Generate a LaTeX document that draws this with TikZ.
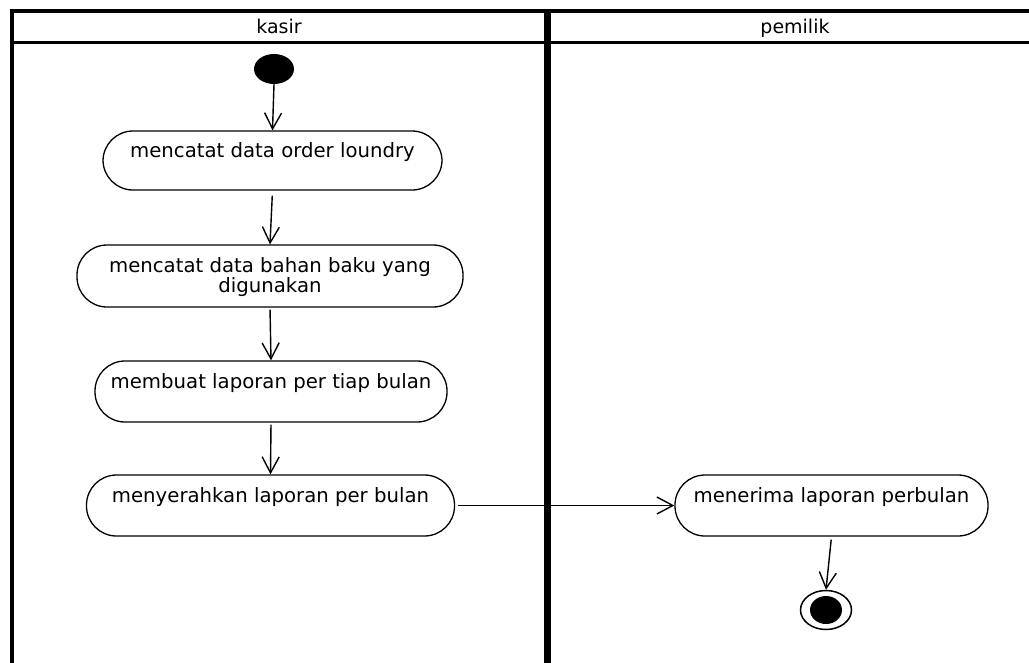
\documentclass[tikz,border=0pt]{standalone}
\usepackage{fontspec}
\setmainfont{DejaVu Sans}
\usetikzlibrary{arrows.meta,shapes.geometric}
\tikzset{
  act/.style={draw=black, line width=1.3pt, rectangle, rounded corners=30pt,
    inner sep=0pt, align=center, font=\fontsize{19.7pt}{19.5pt}\selectfont,
    text height=14pt, text depth=20pt},
  act2/.style={act, text height=34pt, text depth=2pt},
  startnode/.style={draw=none, fill=black, ellipse, minimum width=40pt, minimum height=30pt, inner sep=0pt},
  endouter/.style={draw=black, line width=1.5pt, ellipse, minimum width=51pt, minimum height=39pt, inner sep=0pt},
  endinner/.style={fill=black, ellipse, minimum width=32pt, minimum height=28pt, inner sep=0pt},
  flow/.style={draw=black, line width=1.4pt, -{Straight Barb[length=16pt,width=17pt,line width=1.4pt]}},
  lanelabel/.style={font=\fontsize{19pt}{19.5pt}\selectfont, anchor=base}
}
\begin{document}
\begin{tikzpicture}[x=1pt,y=-1pt]
\useasboundingbox[fill=white] (0,0) rectangle (1029,662);
% swimlane frame
\draw[line width=3.5pt] (9.5,11) -- (1035,11);
\draw[line width=3pt] (9.5,42) -- (1035,42);
\draw[line width=4pt] (11.5,9.5) -- (11.5,670);
\draw[line width=7pt] (547,9.5) -- (547,670);
\node[lanelabel] (lk) at (279,33) {kasir};
\node[lanelabel] (lp) at (795,33) {pemilik};
% nodes
\node[startnode] (init) at (274,69) {};
\node[act, minimum width=339pt, minimum height=59pt] (a1) at (272.5,160.5) {mencatat data order loundry};
\node[act2, minimum width=386pt, minimum height=62pt] (a2) at (270,276) {mencatat data bahan baku yang\\digunakan};
\node[act, minimum width=352pt, minimum height=61pt] (a3) at (271,391.5) {membuat laporan per tiap bulan};
\node[act, minimum width=368pt, minimum height=61pt] (a4) at (270.5,505.5) {menyerahkan laporan per bulan};
\node[act, minimum width=313pt, minimum height=61pt] (a5) at (831.5,505.5) {menerima laporan perbulan};
\node[endouter] (fin) at (826,610) {};
\node[endinner] (fininner) at (826,610) {};
% flows
\draw[flow] (init.south) -- (a1.north);
\draw[flow, shorten <=5pt] (a1.south) -- (a2.north);
\draw[flow, shorten <=2pt] (a2.south) -- (a3.north);
\draw[flow, shorten <=2pt] (a3.south) -- (a4.north);
\draw[flow, shorten <=3pt] (a4.east) -- (a5.west);
\draw[flow, shorten <=3pt] (a5.south) -- (fin.north);
\end{tikzpicture}
\end{document}
